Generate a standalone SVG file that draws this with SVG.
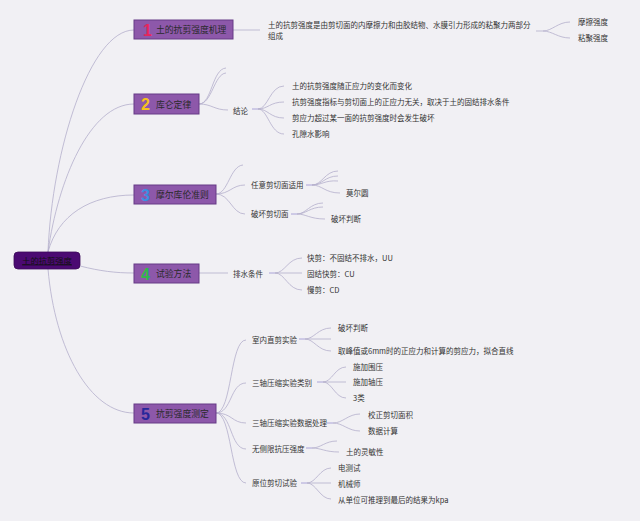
<svg xmlns="http://www.w3.org/2000/svg" width="640" height="521" viewBox="0 0 640 521">
<style>
.bg{fill:#f1f0f4}
.main rect{fill:#8d58aa;stroke:#673a86;stroke-width:1}
.main .lbl{font-family:"Noto Sans CJK SC","Noto Sans",sans-serif;font-size:8.8px;fill:#2a2a2a}
.num{font-family:"Liberation Sans","Noto Sans",sans-serif;font-weight:bold;font-size:16px}
.t{font-family:"Noto Sans CJK SC","Noto Sans",sans-serif;font-size:7.5px;fill:#333}
.c path{fill:none;stroke:#b4aecb;stroke-width:0.8}
.c path.f{stroke:#9a90d0}
</style>
<rect class="bg" x="0" y="0" width="640" height="521"/>
<g class="c" id="connectors">
<path d="M48,252 C52,150 90,30 134,30"/>
<path d="M48,252 C58,180 90,104 134,104"/>
<path d="M48,252 C58,215 90,195 134,195"/>
<path d="M80,266 C100,271 115,273 134,273"/>
<path d="M48,269 C55,350 90,413 134,413"/>
<path d="M233,30 L260,30"/>
<path d="M536,31 L543,31 C552,31 558,22 570,22"/>
<path d="M543,31 C552,31 558,38 570,38"/>
<path d="M199,104 C212,104 212,69 226,68"/>
<path d="M199,104 C212,104 214,74 226,73"/>
<path d="M199,104 C212,104 214,110 228,110"/>
<path class="f" d="M252,109 L258,109"/>
<path d="M258,109 C268,109 270,86 284,86"/>
<path d="M258,109 C268,109 270,102 284,102"/>
<path d="M258,109 C268,109 270,118 284,118"/>
<path d="M258,109 C268,109 270,134 284,134"/>
<path d="M216,194 C228,194 230,166 243,165"/>
<path d="M216,194 C230,194 232,185 245,185"/>
<path d="M216,194 C230,194 232,214 245,214"/>
<path class="f" d="M306,185 L312,185"/>
<path d="M312,185 C322,185 325,171 338,171"/>
<path d="M312,185 C322,185 325,176 338,176"/>
<path d="M312,185 C322,185 325,180 338,181"/>
<path d="M312,185 C322,185 325,193 340,193"/>
<path class="f" d="M291,214 L297,214"/>
<path d="M297,214 C306,214 310,203 323,203"/>
<path d="M297,214 C306,214 310,207 323,207"/>
<path d="M297,214 C306,214 310,219 325,219"/>
<path d="M199,273 L228,273"/>
<path class="f" d="M269,273 L275,273"/>
<path d="M275,273 C285,273 288,258 302,258"/>
<path d="M275,273 L302,273"/>
<path d="M275,273 C285,273 288,290 302,290"/>
<path d="M216,413 C232,413 230,340 246,340"/>
<path d="M216,413 C232,413 230,383 246,383"/>
<path d="M216,413 C232,413 232,423 246,423"/>
<path d="M216,413 C232,413 230,449 246,449"/>
<path d="M216,413 C232,413 230,483 246,483"/>
<path class="f" d="M299,339 L305,339"/>
<path d="M305,339 C314,339 318,328 331,328"/>
<path d="M305,339 L331,339"/>
<path d="M305,339 C314,339 318,351 331,351"/>
<path class="f" d="M317,382 L323,382"/>
<path d="M323,382 C332,382 335,367 346,367"/>
<path d="M323,382 L346,382"/>
<path d="M323,382 C332,382 335,398 346,398"/>
<path class="f" d="M327,423 L333,423"/>
<path d="M333,423 C343,423 348,414 360,414"/>
<path d="M333,423 C343,423 348,431 360,431"/>
<path class="f" d="M306,448 L312,448"/>
<path d="M312,448 C321,448 325,441 337,441"/>
<path d="M312,448 C321,448 325,452 339,452"/>
<path class="f" d="M301,483 L307,483"/>
<path d="M307,483 C316,483 320,468 331,468"/>
<path d="M307,483 L331,483"/>
<path d="M307,483 C316,483 320,499 331,499"/>
</g>
<g id="root">
<rect x="14" y="252" width="66" height="17" rx="4" fill="#4b0a72" stroke="#3a0858" stroke-width="0.8"/>
<text x="47" y="263.5" text-anchor="middle" font-family="Noto Sans CJK SC,Noto Sans,sans-serif" font-size="8.3" fill="#111" text-decoration="underline">土的抗剪强度</text>
</g>
<g id="n1" class="main">
<rect x="134" y="20" width="99" height="19"/>
<text x="143" y="36" class="num" style="fill:#e6265c">1</text>
<text x="156" y="33" class="lbl">土的抗剪强度机理</text>
</g>
<g id="n2" class="main">
<rect x="134" y="94" width="65" height="20"/>
<text x="141" y="110" class="num" style="fill:#f6c21d">2</text>
<text x="156" y="107.5" class="lbl">库仑定律</text>
</g>
<g id="n3" class="main">
<rect x="134" y="185" width="82" height="19"/>
<text x="141" y="200.5" class="num" style="fill:#3b8fe2">3</text>
<text x="156" y="198" class="lbl">摩尔库伦准则</text>
</g>
<g id="n4" class="main">
<rect x="134" y="264" width="65" height="19"/>
<text x="141" y="280" class="num" style="fill:#2fba4a">4</text>
<text x="156" y="277" class="lbl">试验方法</text>
</g>
<g id="n5" class="main">
<rect x="134" y="404" width="82" height="19"/>
<text x="141" y="420" class="num" style="fill:#27279a">5</text>
<text x="156" y="417" class="lbl">抗剪强度测定</text>
</g>
<g id="n1-children">
<text class="t" x="268" y="28">土的抗剪强度是由剪切面的内摩擦力和由胶结物、水膜引力形成的粘聚力两部分</text>
<text class="t" x="268" y="39">组成</text>
<text class="t" x="578" y="25">摩擦强度</text>
<text class="t" x="578" y="41">粘聚强度</text>
</g>
<g id="n2-children">
<text class="t" x="233" y="113.5">结论</text>
<text class="t" x="292" y="89">土的抗剪强度随正应力的变化而变化</text>
<text class="t" x="292" y="105">抗剪强度指标与剪切面上的正应力无关，取决于土的固结排水条件</text>
<text class="t" x="292" y="121">剪应力超过某一面的抗剪强度时会发生破坏</text>
<text class="t" x="292" y="137">孔隙水影响</text>
</g>
<g id="n3-children">
<text class="t" x="251" y="188">任意剪切面适用</text>
<text class="t" x="346" y="196">莫尔圆</text>
<text class="t" x="251" y="217">破坏剪切面</text>
<text class="t" x="331" y="222">破坏判断</text>
</g>
<g id="n4-children">
<text class="t" x="233" y="276.5">排水条件</text>
<text class="t" x="307" y="261">快剪：不固结不排水，UU</text>
<text class="t" x="307" y="277">固结快剪：CU</text>
<text class="t" x="307" y="293">慢剪：CD</text>
</g>
<g id="n5-children">
<text class="t" x="252" y="342.5">室内直剪实验</text>
<text class="t" x="338" y="331">破坏判断</text>
<text class="t" x="338" y="354">取峰值或6mm时的正应力和计算的剪应力，拟合直线</text>
<text class="t" x="252" y="385.5">三轴压缩实验类别</text>
<text class="t" x="353" y="370">施加围压</text>
<text class="t" x="353" y="385">施加轴压</text>
<text class="t" x="353" y="401">3类</text>
<text class="t" x="252" y="425.5">三轴压缩实验数据处理</text>
<text class="t" x="368" y="417.5">校正剪切面积</text>
<text class="t" x="368" y="434">数据计算</text>
<text class="t" x="252" y="451.5">无侧限抗压强度</text>
<text class="t" x="346" y="455">土的灵敏性</text>
<text class="t" x="252" y="486">原位剪切试验</text>
<text class="t" x="338" y="471">电测试</text>
<text class="t" x="338" y="487">机械师</text>
<text class="t" x="338" y="503">从单位可推理到最后的结果为kpa</text>
</g>
</svg>
